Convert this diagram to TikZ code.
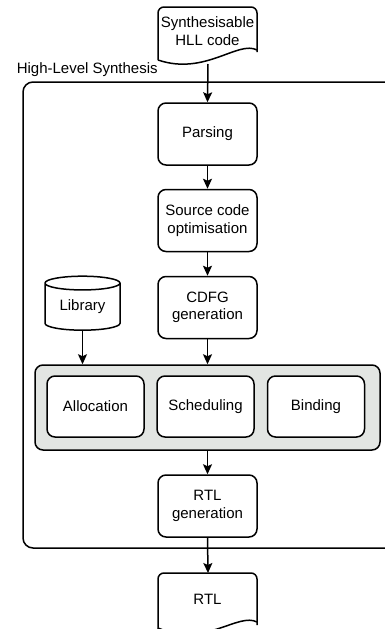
\documentclass[tikz,border=0pt]{standalone}
\usepackage{fontspec}
\setmainfont{Liberation Sans}
\usetikzlibrary{arrows.meta,shapes.geometric}
\begin{document}
\begin{tikzpicture}[x=1pt,y=-1pt,
  font=\fontsize{15}{17.5}\selectfont,
  line width=1.5pt,
  stepbox/.style={draw, rounded corners=8pt, minimum width=99pt, minimum height=62pt, align=center, fill=white, inner sep=0pt},
  arr/.style={-{Stealth[length=10pt,width=9pt,inset=2pt]}},
  docshape/.style={draw, line width=1.5pt, fill=white}
]
\useasboundingbox (0,0) rectangle (385,629);
\clip (0,0) rectangle (385,629);
% HLS container
\draw[rounded corners=10pt] (23,82) rectangle (420,548);
\node[anchor=south west, inner sep=0pt] (hlslabel) at (16,77) {High-Level Synthesis};
% top document
\draw[docshape, rounded corners=6pt] (158,60) -- (158,7) -- (257,7) -- (257,52);
\draw[docshape] (257,50) .. controls (238,40) and (205,76) .. (158,60);
\node[align=center, inner sep=0pt] (src) at (207.5,31) {Synthesisable\\HLL code};
\coordinate (srcbot) at (208,64);
% process boxes
\node[stepbox] (parse) at (207.5,134) {Parsing};
\node[stepbox] (opt) at (207.5,220.5) {Source code\\optimisation};
\node[stepbox] (cdfg) at (207.5,307.5) {CDFG\\generation};
% grey container
\node[draw, rounded corners=8pt, fill={rgb,255:red,226;green,229;blue,226}, minimum width=345pt, minimum height=85pt, inner sep=0pt] (grp) at (207.5,407.5) {};
\node[stepbox, minimum height=61pt, minimum width=97pt] (alloc) at (95.5,406.5) {Allocation};
\node[stepbox, minimum height=61pt, minimum width=97pt] (sched) at (205.5,406.5) {Scheduling};
\node[stepbox, minimum height=61pt, minimum width=97pt] (bind) at (316,406.5) {Binding};
% library cylinder
\node[cylinder, shape border rotate=90, draw, aspect=0.3, minimum width=75pt, minimum height=54pt, inner sep=0pt, fill=white] (lib) at (82.5,307) {Library};
% RTL generation
\node[stepbox] (rtlgen) at (207.5,506) {RTL\\generation};
% RTL document
\draw[docshape, rounded corners=6pt] (158,630) -- (158,573) -- (257,573) -- (257,625);
\draw[docshape] (257,622) .. controls (238,612) and (205,648) .. (158,628);
\node[inner sep=0pt] (rtl) at (207.5,599) {RTL};
\coordinate (rtltop) at (208,573);
% connectors
\draw[arr] (srcbot) -- (parse.north);
\draw[arr] (parse.south) -- (opt.north);
\draw[arr] (opt.south) -- (cdfg.north);
\draw[arr] (cdfg.south) -- (grp.north -| cdfg.south);
\draw[arr] (lib.south) -- (grp.north -| lib.south);
\draw[arr] (grp.south -| rtlgen.north) -- (rtlgen.north);
\draw[arr] (rtlgen.south) -- (rtltop);
\end{tikzpicture}
\end{document}
